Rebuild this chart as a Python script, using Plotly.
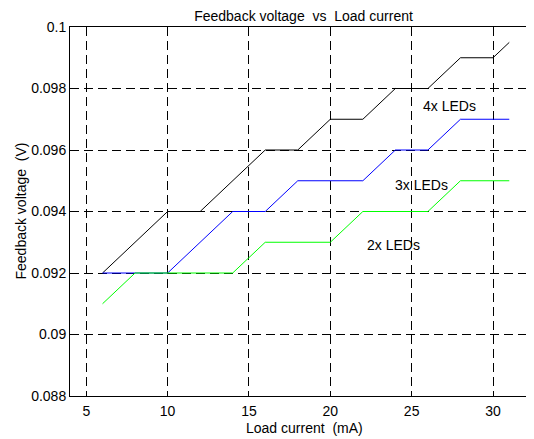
import plotly.graph_objects as go

# Data
x4 = [6, 10, 12, 16, 18, 20, 22, 24, 26, 28, 30, 31]
y4 = [0.092, 0.094, 0.094, 0.096, 0.096, 0.097, 0.097, 0.098, 0.098, 0.099, 0.099, 0.0995]

x3 = [6, 10, 14, 16, 18, 22, 24, 26, 28, 31]
y3 = [0.092, 0.092, 0.094, 0.094, 0.095, 0.095, 0.096, 0.096, 0.097, 0.097]

x2 = [6, 8, 14, 16, 20, 22, 26, 28, 31]
y2 = [0.091, 0.092, 0.092, 0.093, 0.093, 0.094, 0.094, 0.095, 0.095]

x_ticks = [5, 10, 15, 20, 25, 30]
y_ticks = [0.088, 0.09, 0.092, 0.094, 0.096, 0.098, 0.1]
y_tick_text = ["0.088", "0.09", "0.092", "0.094", "0.096", "0.098", "0.1"]

labels = ["4x LEDs", "3x LEDs", "2x LEDs"]
label_x = [27.3, 25.6, 23.9]
label_y = [0.09743, 0.09486, 0.0929]

FONT = "Liberation Sans, Arial, sans-serif"
BLACK = "#000000"

# the page body has an 8px margin, so the figure is sized to fit the 534x439 window
W, H = 526, 431

fig = go.Figure()
fig.add_trace(go.Scatter(x=x4, y=y4, mode="lines", line=dict(color="#000000", width=1), name="4x"))
fig.add_trace(go.Scatter(x=x3, y=y3, mode="lines", line=dict(color="#0000ff", width=1), name="3x"))
fig.add_trace(go.Scatter(x=x2, y=y2, mode="lines", line=dict(color="#00ff00", width=1), name="2x"))

for t, ax_, ay_ in zip(labels, label_x, label_y):
    fig.add_annotation(x=ax_, y=ay_, text=t, showarrow=False,
                       font=dict(family=FONT, size=14, color=BLACK))

# axis titles placed as annotations for precise positioning
fig.add_annotation(xref="paper", yref="paper", x=0.505, y=0, yshift=-32,
                   xanchor="center", yanchor="middle", showarrow=False,
                   text="Load current \u00a0(mA)",
                   font=dict(family=FONT, size=14, color=BLACK))
fig.add_annotation(xref="paper", yref="paper", x=0, xshift=-50, y=0.5,
                   xanchor="center", yanchor="middle", showarrow=False,
                   textangle=-90, text="Feedback voltage \u00a0(V)",
                   font=dict(family=FONT, size=14, color=BLACK))

axis_common = dict(
    showline=True, linecolor=BLACK, linewidth=1,
    ticks="inside", ticklen=5, tickcolor=BLACK, tickwidth=1,
    showgrid=True, gridcolor=BLACK, gridwidth=1, griddash="9px,5px",
    zeroline=False, automargin=False,
    tickfont=dict(family=FONT, size=14, color=BLACK),
)

fig.update_layout(
    width=W, height=H,
    margin=dict(l=62, r=0, t=19, b=43),
    paper_bgcolor="white", plot_bgcolor="white",
    showlegend=False,
    title=dict(text="Feedback voltage \u00a0vs \u00a0Load current",
               xref="container", yref="container",
               x=295.5 / W, xanchor="center", y=1 - 8.5 / H, yanchor="middle",
               font=dict(family=FONT, size=14, color=BLACK)),
    xaxis=dict(range=[4, 32.52], tickvals=x_ticks, mirror="allticks",
               ticklabelstandoff=2, **axis_common),
    yaxis=dict(range=[0.088, 0.1], tickvals=y_ticks, ticktext=y_tick_text,
               mirror=False, **axis_common),
)

fig.write_html("out.html")
